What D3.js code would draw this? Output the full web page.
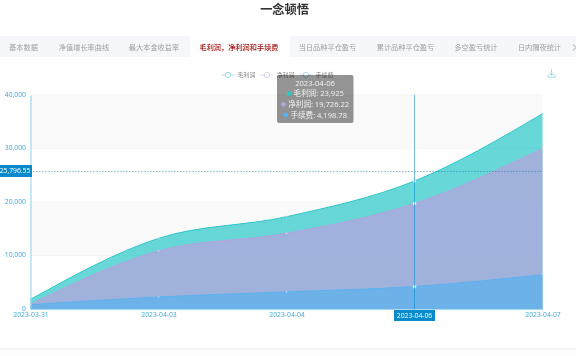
<!DOCTYPE html>
<html><head><meta charset="utf-8">
<script src="https://cdn.jsdelivr.net/npm/d3@7"></script>
<style>html,body{margin:0;padding:0;background:#fff;overflow:hidden}svg{display:block;font-family:"Noto Sans CJK SC","Noto Sans",sans-serif;filter:blur(.3px)}</style>
</head><body><svg id="c" width="576" height="356"></svg>
<script>
const dates=["2023-03-31","2023-04-03","2023-04-04","2023-04-06","2023-04-07"];
const gross=[1800,13200,17250,23925,36500];
const net=[900,10850,14150,19726.22,30000];
const fee=[800,2250,3200,4198.78,6400];
const yTicks=[0,10000,20000,30000,40000];
const seriesNames=["毛利润","净利润","手续费"];
const seriesColors=["#2ec7c9","#b6a2de","#5ab1ef"];
const tabs=[["基本数据",23.5],["净值增长率曲线",84],["最大本金收益率",154],["毛利润，净利润和手续费",239],["当日品种平仓盈亏",327.5],["累计品种平仓盈亏",405.5],["多空盈亏统计",476],["日内隔夜统计",539.5]];
const activeTab=3, hoverIndex=3, hoverY=25796.55;
const tipValues=["23,925","19,726.22","4,198.78"];
const axisC="#008acd";
const svg=d3.select("#c");
svg.append("text").attr("x",284.5).attr("y",14).attr("text-anchor","middle").attr("font-size",12.2).attr("font-weight",700).attr("fill","#333").text("一念顿悟");
svg.append("rect").attr("x",0).attr("y",36).attr("width",576).attr("height",21).attr("fill","#f5f7fa");
svg.append("rect").attr("x",190).attr("y",36).attr("width",100).attr("height",21).attr("fill","#fff");
tabs.forEach((t,i)=>svg.append("text").attr("x",t[1]).attr("y",50).attr("text-anchor","middle").attr("font-size",7.2).attr("fill",i===activeTab?"#a50f0f":"#a0a0a0").attr("font-weight",i===activeTab?500:400).text(t[0]));
svg.append("path").attr("d","M573 44.5l3 3-3 3").attr("fill","none").attr("stroke","#888").attr("stroke-width",.8);
svg.append("rect").attr("x",0).attr("y",348.5).attr("width",576).attr("height",1).attr("fill","#e6e6e6");
svg.append("rect").attr("x",0).attr("y",349.5).attr("width",576).attr("height",7).attr("fill","#fdfdfd");

const x=d3.scalePoint().domain(dates).range([30.5,542.5]);
const y=d3.scaleLinear().domain([0,40000]).range([309,95]);
const g=svg.append("g");
yTicks.slice(0,-1).forEach((t,i)=>{ if(i%2===1) g.append("rect").attr("x",x.range()[0]).attr("width",512).attr("y",y(yTicks[i+1])).attr("height",y(t)-y(yTicks[i+1])).attr("fill","#fafafa");});
yTicks.slice(1).forEach(t=>g.append("line").attr("x1",30.5).attr("x2",542.5).attr("y1",y(t)).attr("y2",y(t)).attr("stroke","#f0f0f0").attr("stroke-width",.7));
const curve=d3.curveMonotoneX;
[gross,net,fee].forEach((vals,k)=>{
  const area=d3.area().x((d,i)=>x(dates[i])).y0(y(0)).y1(d=>y(d)).curve(curve);
  const line=d3.line().x((d,i)=>x(dates[i])).y(d=>y(d)).curve(curve);
  g.append("path").attr("d",area(vals)).attr("fill",seriesColors[k]).attr("fill-opacity",.72);
  g.append("path").attr("d",line(vals)).attr("fill","none").attr("stroke",seriesColors[k]).attr("stroke-width",1);
});
const ya=g.append("g").attr("transform","translate(30.5,0)").call(d3.axisLeft(y).tickValues(yTicks).tickSize(0).tickPadding(4.5).tickFormat(d3.format(",")));
ya.select(".domain").attr("stroke","#8fd0ee").attr("stroke-width",1);
ya.selectAll("text").attr("fill","#3aa6dc").attr("font-size",6.8).attr("font-family","'Open Sans',sans-serif").attr("dy","0.2em");
const xa=g.append("g").attr("transform","translate(0,309)").call(d3.axisBottom(x).tickSize(0).tickPadding(3).tickFormat(d=>d===dates[hoverIndex]?"":d));
xa.select(".domain").attr("stroke","#a9dcf3").attr("stroke-width",1);
xa.selectAll("text").attr("fill","#3aa6dc").attr("font-size",6.8).attr("font-family","'Open Sans',sans-serif");
[gross,net,fee].forEach((vals,k)=>{
  g.selectAll(null).data(vals).enter().append("circle").attr("cx",(d,i)=>x(dates[i])).attr("cy",d=>y(d))
   .attr("r",(d,i)=>i===hoverIndex?1.9:.8).attr("fill","#fff").attr("stroke",seriesColors[k]).attr("stroke-width",.3).attr("fill-opacity",.85);
});
const hx=x(dates[hoverIndex]);
g.append("line").attr("x1",hx).attr("x2",hx).attr("y1",95).attr("y2",309).attr("stroke",axisC).attr("stroke-opacity",.6).attr("stroke-width",.9);
g.append("line").attr("x1",33).attr("x2",542.5).attr("y1",y(hoverY)+.5).attr("y2",y(hoverY)+.5).attr("stroke","#1a7aa8").attr("stroke-opacity",.75).attr("stroke-width",.7).attr("stroke-dasharray","1.6,1.4");
g.append("rect").attr("x",0).attr("y",y(hoverY)-6).attr("width",32).attr("height",12).attr("fill","#0a8acb");
g.append("text").attr("x",15).attr("y",y(hoverY)+2.3).attr("text-anchor","middle").attr("font-size",6.8).attr("fill","#fff").attr("font-family","'Open Sans',sans-serif").text(hoverY.toLocaleString("en-US"));
g.append("rect").attr("x",hx-20.5).attr("y",310).attr("width",41).attr("height",11).attr("fill","#0a8acb");
g.append("text").attr("x",hx).attr("y",318).attr("text-anchor","middle").attr("font-size",6.8).attr("fill","#fff").attr("font-family","'Open Sans',sans-serif").text(dates[hoverIndex]);
[228,267,306].forEach((cx,i)=>{
  const c=seriesColors[i];
  svg.append("line").attr("x1",cx-6.5).attr("x2",cx+6.5).attr("y1",75).attr("y2",75).attr("stroke",c).attr("stroke-opacity",.6).attr("stroke-width",.7);
  svg.append("circle").attr("cx",cx).attr("cy",75).attr("r",2.7).attr("fill","#fff").attr("stroke",c).attr("stroke-opacity",.7).attr("stroke-width",.7);
  svg.append("text").attr("x",cx+9.5).attr("y",77).attr("font-size",6).attr("fill","#888").text(seriesNames[i]);
});
svg.append("path").attr("d","M551.5 69v6M549 72.8l2.5 2.4 2.5-2.4M548 74.5v2.8h7v-2.8").attr("fill","none").attr("stroke","#7fd8d9").attr("stroke-width",.8);
svg.append("rect").attr("x",277).attr("y",75).attr("width",76.5).attr("height",48).attr("rx",2).attr("fill","#000").attr("fill-opacity",.42);
svg.append("text").attr("x",315).attr("y",85.8).attr("text-anchor","middle").attr("font-size",7.6).attr("fill","#f2f2f2").attr("font-family","'Open Sans',sans-serif").text(dates[hoverIndex]);
seriesNames.forEach((n,i)=>{
  const ty=96.3+i*10.65;
  const t=svg.append("text").attr("y",ty).attr("font-size",7.6).attr("fill","#f2f2f2");
  t.append("tspan").text(n+": ");
  t.append("tspan").attr("font-family","'Open Sans',sans-serif").text(tipValues[i]);
  const w=t.node().getComputedTextLength();
  const left=315.2-(w+7)/2;
  t.attr("x",left+7);
  svg.append("circle").attr("cx",left+2.4).attr("cy",ty-2.6).attr("r",2.4).attr("fill",seriesColors[i]);
});
</script></body></html>
